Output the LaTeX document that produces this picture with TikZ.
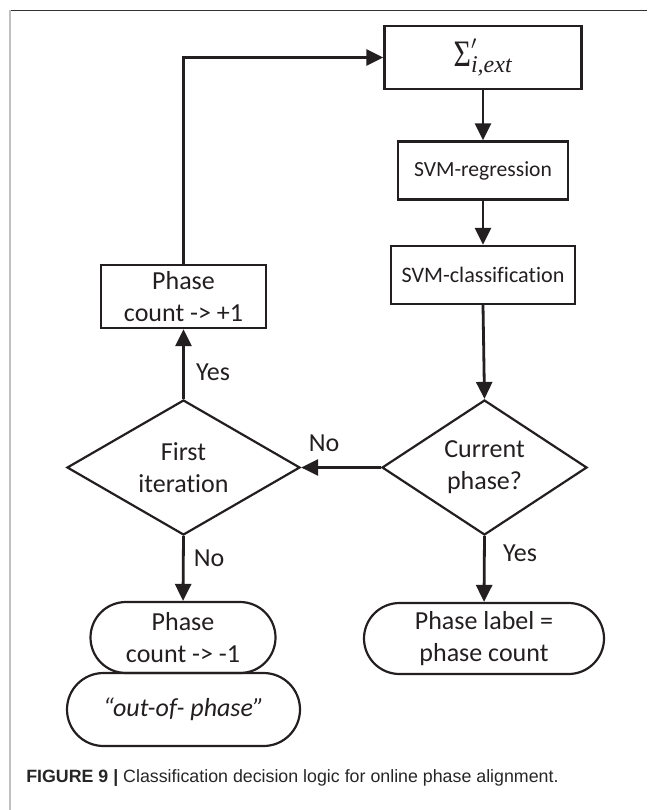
\documentclass[tikz,border=0pt]{standalone}
\usepackage{fontspec}
\usepackage{graphicx}
\setmainfont{Carlito}[Ligatures=NoCommon]
\newfontfamily\capfont{Liberation Sans}
\newfontfamily\sigfont{Liberation Serif}
\usetikzlibrary{shapes.geometric,shapes.misc,arrows.meta}
\newlength\pxu
\setlength\pxu{0.75pt}
\definecolor{ink}{HTML}{231F20}

\begin{document}
\begin{tikzpicture}[x=0.75pt,y=-0.75pt,
  txt/.style={font=\fontsize{19.5}{24}\selectfont, text=ink, align=center},
  stepbox/.style={txt, draw=ink, rectangle, line width=2.3\pxu, inner sep=0pt},
  decision/.style={txt, draw=ink, diamond, line width=2.2\pxu, inner sep=0pt, aspect=1.6},
  terminal/.style={txt, draw=ink, rounded rectangle, line width=2.2\pxu, inner sep=0pt},
  flow/.style={draw=ink, line width=2.8\pxu, -{Triangle[length=12.75pt,width=12pt]}},
  lbl/.style={txt, inner sep=0pt}]

\useasboundingbox (0,0) rectangle (647,810);

% page frame
\draw[line width=1.2\pxu, black!80] (10,10.5) -- (647,10.5);
\draw[line width=2.5\pxu, black!25] (10,10) -- (10,810);

% process steps
\node[stepbox, minimum width=197\pxu, minimum height=63\pxu] (sig) at (483,57.5)
  {$\hbox{\sigfont\fontsize{28}{30}\selectfont\scalebox{0.8}[1]{Σ}}'_{\hbox{\sigfont\itshape\fontsize{18}{20}\selectfont i,ext}}$};
\node[stepbox, minimum width=170\pxu, minimum height=58\pxu, font=\fontsize{16.2}{20}\selectfont] (reg) at (483,170.5) {SVM-regression};
\node[stepbox, minimum width=184\pxu, minimum height=58\pxu, font=\fontsize{16.6}{20}\selectfont] (cls) at (483,275) {SVM-classification};
\node[stepbox, minimum width=165\pxu, minimum height=63\pxu] (inc) at (183.5,296.5) {Phase\\count -> +1};

% decisions
\node[decision, minimum width=205\pxu, minimum height=135\pxu] (cur) at (484.5,467.5) {Current\\phase?};
\node[decision, minimum width=233\pxu, minimum height=135\pxu] (first) at (183.5,467.5) {First\\iteration};

% terminals
\node[terminal, minimum width=240\pxu, minimum height=71\pxu] (lab) at (484,638.5) {Phase label =\\phase count};
\node[terminal, minimum width=185\pxu, minimum height=71\pxu] (dec) at (183,637.5) {Phase\\count -> -1};
\node[terminal, minimum width=233\pxu, minimum height=73\pxu] (oop) at (183.5,709.5) {\itshape “out-of- phase”};

% connectors
\draw[flow] (sig.south) -- (reg.north);
\draw[flow] (reg.south) -- (cls.north);
\draw[flow] (cls.south) -- (cur.north);
\draw[flow] (cur.south) -- (lab.north);
\draw[flow] (cur.west) -- (first.east);
\draw[flow] (first.south) -- (dec.north);
\draw[flow] (first.north) -- (inc.south);
\draw[flow] (inc.north) |- (sig.west);

% branch labels
\node[lbl] (yes1) at (213,372) {Yes};
\node[lbl] (no1) at (324,443) {No};
\node[lbl] (no2) at (209,558) {No};
\node[lbl] (yes2) at (520,553) {Yes};

% caption
\node[anchor=base west, inner sep=0pt, font=\capfont\fontsize{13.35}{16}\selectfont, text=black!85] (cap) at (26,782)
  {\textbf{FIGURE 9 |} Classification decision logic for online phase alignment.};
\end{tikzpicture}
\end{document}
